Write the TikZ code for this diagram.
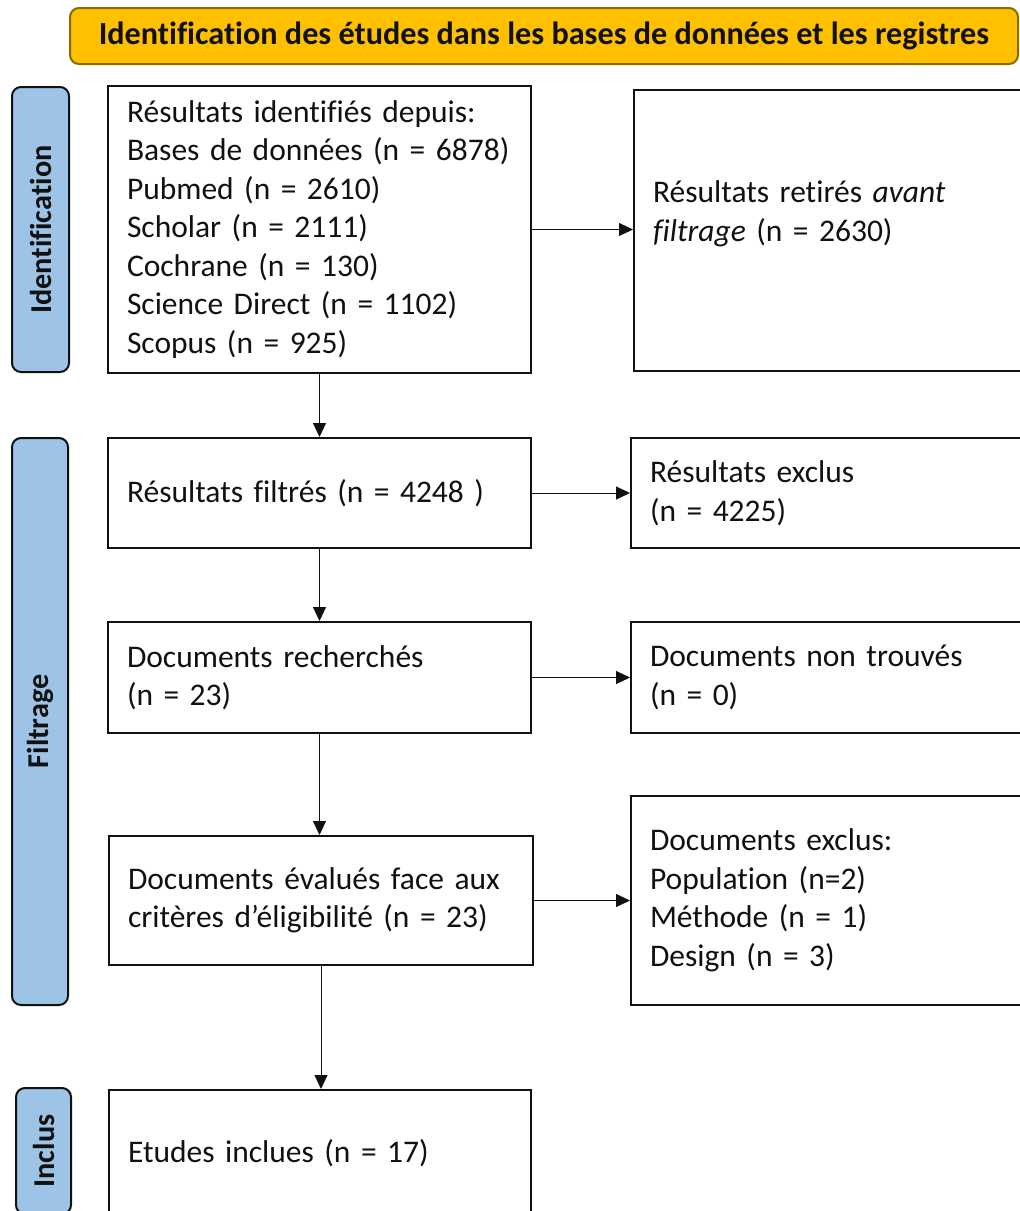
\documentclass[tikz,border=0pt]{standalone}
\usepackage{fontspec}
\setmainfont[Ligatures=NoCommon]{Carlito}
\usetikzlibrary{arrows.meta}
\definecolor{gold}{HTML}{FFC000}
\definecolor{goldline}{HTML}{8C6A00}
\definecolor{side}{HTML}{9DC3E6}
\definecolor{ink}{HTML}{111111}
\newcommand\myboxfont{\fontsize{31.5}{38.5}\selectfont\spaceskip=0.18em\relax}
\begin{document}
\begin{tikzpicture}[x=1pt,y=-1pt,
  box/.style={draw=ink, line width=2pt, rectangle, inner xsep=19pt, inner ysep=0pt,
    align=left, font=\myboxfont, text=ink},
  sidebar/.style={draw=ink, line width=2pt, fill=side, rounded corners=9pt, rotate=90,
    inner sep=0pt, font=\fontsize{30.3}{34}\selectfont\bfseries, text=ink},
  banner/.style={draw=goldline, line width=2pt, fill=gold, rounded corners=9pt,
    inner sep=0pt, font=\fontsize{32.2}{36}\selectfont\bfseries, text=ink},
  arr/.style={draw=ink, line width=1pt, -{Triangle[length=14pt,width=13pt]}}
]
\path[use as bounding box, clip] (0,0) rectangle (1020,1211);
\fill[white] (0,0) rectangle (1020,1211);

% banner
\node[banner, minimum width=948pt, minimum height=56pt] (ban) at (544,36)
  {Identification des études dans les bases de données et les registres};

% side bars
\node[sidebar, minimum width=285pt, minimum height=57pt] (sid) at (40.5,229.5) {Identification};
\node[sidebar, minimum width=567pt, minimum height=56pt] (sfi) at (40,721.5) {Filtrage};
\node[sidebar, minimum width=126pt, minimum height=55pt] (sin) at (43.5,1151) {Inclus};

% main column
\node[box, minimum width=423pt, minimum height=287pt, text width=385pt] (b1) at (319.5,229.5)
  {Résultats identifiés depuis:\\Bases de données (n = 6878)\\Pubmed (n = 2610)\\Scholar (n = 2111)\\Cochrane (n = 130)\\Science Direct (n = 1102)\\Scopus (n = 925)};
\node[box, minimum width=423pt, minimum height=110pt, text width=385pt] (b2) at (319.5,493)
  {Résultats filtrés (n = 4248 )};
\node[box, minimum width=423pt, minimum height=111pt, text width=385pt] (b3) at (319.5,677.5)
  {Documents recherchés\\(n = 23)};
\node[box, minimum width=424pt, minimum height=129pt, text width=386pt] (b4) at (321,900.5)
  {Documents évalués face aux\\critères d’éligibilité (n = 23)};
\node[box, minimum width=422pt, minimum height=126pt, text width=384pt] (b5) at (320,1153)
  {Etudes inclues (n = 17)};

% right column
\node[box, minimum width=426pt, minimum height=281pt, text width=388pt] (r1) at (847,230.5)
  {Résultats retirés \textit{avant}\\\textit{filtrage} (n = 2630)\\\mbox{}};
\node[box, minimum width=429pt, minimum height=110pt, text width=391pt] (r2) at (845.5,493)
  {Résultats exclus\\(n = 4225)};
\node[box, minimum width=429pt, minimum height=111pt, text width=391pt] (r3) at (845.5,677.5)
  {Documents non trouvés\\(n = 0)};
\node[box, minimum width=429pt, minimum height=209pt, text width=391pt] (r4) at (845.5,900.5)
  {Documents exclus:\\Population (n=2)\\Méthode (n = 1)\\Design (n = 3)};

% connectors
\draw[arr] (b1.south) -- (b2.north);
\draw[arr] (b2.south) -- (b3.north);
\draw[arr] (b3.south) -- (b3.south |- b4.north);
\draw[arr] (b4.south) -- (b4.south |- b5.north);
\draw[arr] (b1.east) -- (b1.east -| r1.west);
\draw[arr] (b2.east) -- (r2.west);
\draw[arr] (b3.east) -- (r3.west);
\draw[arr] (b4.east) -- (b4.east -| r4.west);
\end{tikzpicture}
\end{document}
